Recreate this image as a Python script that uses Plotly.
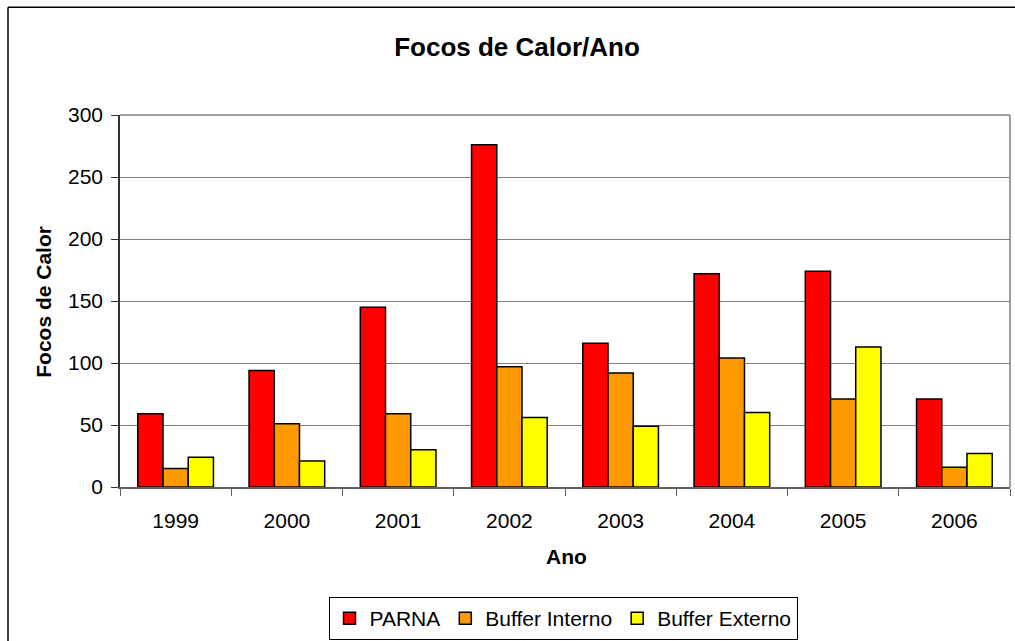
import plotly.graph_objects as go

anos = ["1999", "2000", "2001", "2002", "2003", "2004", "2005", "2006"]
parna = [59, 94, 145, 276, 116, 172, 174, 71]
buffer_interno = [15, 51, 59, 97, 92, 104, 71, 16]
buffer_externo = [24, 21, 30, 56, 49, 60, 113, 27]
y_ticks = [0, 50, 100, 150, 200, 250, 300]

W, H = 1015, 641
# plot area in page pixels
L, R, T, B = 120, 1010, 115, 487.5
pw, ph = R - L, B - T

def px(x):
    return (x - L) / pw

def py(y):
    return (B - y) / ph

FONT = "Arial, Liberation Sans, sans-serif"

fig = go.Figure()
series = [("PARNA", parna, "#FF0000"),
          ("Buffer Interno", buffer_interno, "#FF9900"),
          ("Buffer Externo", buffer_externo, "#FFFF00")]
for name, vals, col in series:
    fig.add_trace(go.Bar(x=anos, y=vals, name=name,
                         marker=dict(color=col, line=dict(color="black", width=1.5))))

fig.update_layout(
    width=W, height=H,
    margin=dict(l=L, r=W - R, t=T, b=H - B, pad=0, autoexpand=False),
    paper_bgcolor="white", plot_bgcolor="white",
    barmode="group", bargap=0.32, bargroupgap=0,
    font=dict(family=FONT, size=21, color="black"),
    title=dict(text="<b>Focos de Calor/Ano</b>", x=517 / W, xanchor="center",
               y=1 - 47 / H, yanchor="middle",
               font=dict(family=FONT, size=26, color="black")),
    showlegend=True,
    legend=dict(orientation="h", x=px(563), xanchor="center",
                yref="container", y=1 - 597 / H, yanchor="top",
                bordercolor="black", borderwidth=1, bgcolor="white",
                font=dict(family=FONT, size=21, color="black"),
                itemwidth=30, tracegroupgap=0),
)

fig.update_xaxes(type="category", tickson="boundaries", ticks="outside", ticklen=7,
                 tickcolor="#606060", showline=True, linecolor="#606060", linewidth=1.5,
                 mirror=False, showgrid=False, ticklabelstandoff=14, automargin=False,
                 tickfont=dict(size=21, family=FONT))
fig.update_yaxes(range=[0, 300], tickvals=y_ticks, ticks="outside", ticklen=7,
                 tickcolor="#303030", showline=True, linecolor="#303030", linewidth=1.5,
                 showgrid=True, gridcolor="#808080", gridwidth=1.2,
                 zeroline=False, ticklabelstandoff=4, automargin=False,
                 tickfont=dict(size=21, family=FONT))

# right/top border of plot area (gray)
fig.add_shape(type="line", xref="paper", yref="paper", x0=0, x1=1, y0=1, y1=1,
              line=dict(color="#808080", width=1.5))
fig.add_shape(type="line", xref="paper", yref="paper", x0=1, x1=1, y0=0, y1=1,
              line=dict(color="#808080", width=1.5))

# outer chart border (left and top edges; right/bottom lie outside the view)
fig.add_shape(type="line", xref="paper", yref="paper",
              x0=px(8), x1=px(8), y0=py(700), y1=py(7),
              line=dict(color="black", width=1.5), layer="below")
fig.add_shape(type="line", xref="paper", yref="paper",
              x0=px(8), x1=px(1100), y0=py(7), y1=py(7),
              line=dict(color="black", width=1.5), layer="below")

fig.add_annotation(text="<b>Focos de Calor</b>", xref="paper", yref="paper",
                   x=px(44), y=py(302), textangle=-90, showarrow=False,
                   xanchor="center", yanchor="middle",
                   font=dict(family=FONT, size=21, color="black"))
fig.add_annotation(text="<b>Ano</b>", xref="paper", yref="paper",
                   x=px(566), y=py(557), showarrow=False,
                   xanchor="center", yanchor="middle",
                   font=dict(family=FONT, size=21, color="black"))

fig.write_html(
    "out.html",
    config={"displayModeBar": False},
    post_script=("document.body.style.margin='0';"
                 "document.body.style.overflow='hidden';"
                 "document.documentElement.style.overflow='hidden';"),
)
